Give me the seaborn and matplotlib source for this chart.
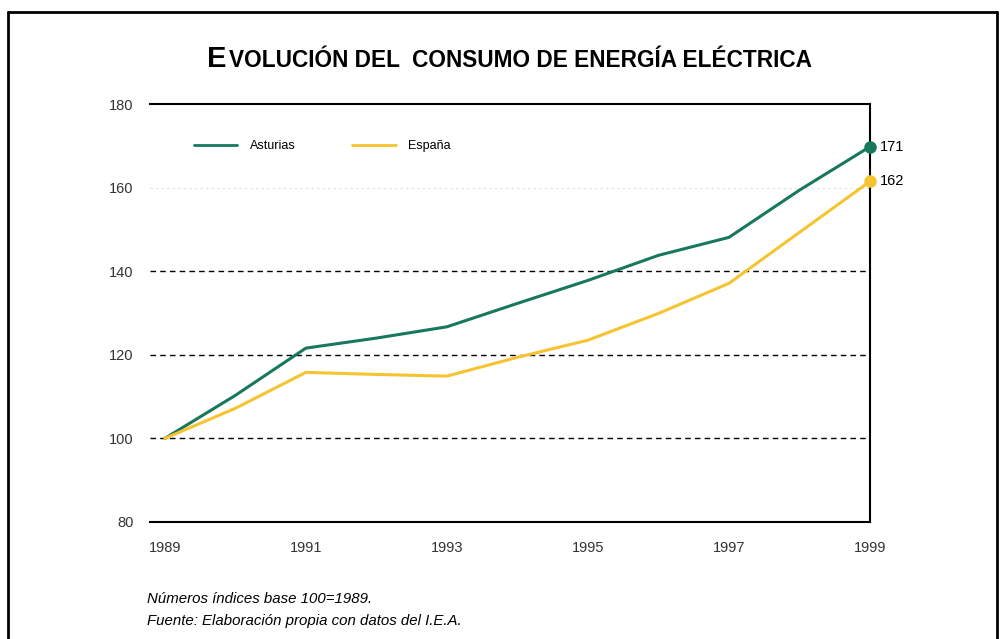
import pandas as pd
import matplotlib.pyplot as plt
import matplotlib.lines as mlines
import seaborn as sns

# data (index, base 100 = 1989)
years = [1989, 1990, 1991, 1992, 1993, 1994, 1995, 1996, 1997, 1998, 1999]
asturias = [100, 110.3, 121.6, 124.0, 126.7, 132.3, 137.8, 143.8, 148.1, 159.4, 169.8]
espana = [100, 107.2, 115.8, 115.3, 114.9, 119.4, 123.5, 129.9, 137.1, 149.3, 161.5]
series_names = ["Asturias", "España"]
end_labels = ["171", "162"]
x_ticks = [1989, 1991, 1993, 1995, 1997, 1999]
y_ticks = [80, 100, 120, 140, 160, 180]
colors = ["#17785e", "#f6c431"]

df = pd.concat([
    pd.DataFrame({"year": years, "value": asturias, "serie": series_names[0]}),
    pd.DataFrame({"year": years, "value": espana, "serie": series_names[1]}),
])

sns.set_theme(style="white")
plt.rcParams["font.family"] = ["Liberation Sans", "DejaVu Sans"]
plt.rcParams["text.color"] = "black"

fig = plt.figure(figsize=(10.03, 6.39), dpi=100)
ax = fig.add_axes([0.1496, 0.1831, 0.7178, 0.6541])

# grid lines
for yv in [100, 120, 140]:
    ax.axhline(yv, color="black", lw=1.0, ls=(0, (4, 3)), zorder=1)
ax.axhline(160, color="#dddddd", lw=0.8, ls=(0, (2, 3)), zorder=1)

sns.lineplot(data=df, x="year", y="value", hue="serie", palette=colors,
             lw=2.2, ax=ax, legend=False, zorder=3)

# end points and labels
for vals, col, lab in zip([asturias, espana], colors, end_labels):
    ax.plot(years[-1], vals[-1], "o", color=col, ms=8, zorder=4, clip_on=False)
    ax.annotate(lab, (years[-1], vals[-1]), xytext=(7, 0), textcoords="offset points",
                va="center", ha="left", fontsize=10.5, color="black")

ax.set_xlim(1988.79, 1999)
ax.set_ylim(80, 180)
ax.set_xticks(x_ticks)
ax.set_xticklabels([str(x) for x in x_ticks], fontsize=10.5, color="#333333")
ax.set_yticks(y_ticks)
ax.set_yticklabels([str(y) for y in y_ticks], fontsize=10.5, color="#333333")
ax.tick_params(axis="y", length=0, pad=12)
ax.tick_params(axis="x", length=0, pad=14)
ax.set_xlabel("")
ax.set_ylabel("")

for s in ["top", "bottom", "right"]:
    ax.spines[s].set_visible(True)
    ax.spines[s].set_color("black")
    ax.spines[s].set_linewidth(1.5)
ax.spines["left"].set_visible(False)

# legend
handles = [mlines.Line2D([], [], color=c, lw=2) for c in colors]
ax.legend(handles, series_names, loc="upper left", bbox_to_anchor=(0.045, 0.94),
          ncol=2, frameon=False, fontsize=9, handlelength=3.5, columnspacing=4.5,
          handletextpad=1.0)

# title in small caps
W, H = 1003, 639
fig.text(207 / W, 1 - 67 / H, "E", fontsize=21, fontweight="bold", ha="left", va="baseline")
fig.text(229 / W, 1 - 67 / H, "VOLUCIÓN DEL  CONSUMO DE ENERGÍA ELÉCTRICA",
         fontsize=16.3, fontweight="bold", ha="left", va="baseline")

# notes
fig.text(147 / W, 1 - 603 / H, "Números índices base 100=1989.", fontsize=10.8, style="italic")
fig.text(147 / W, 1 - 625 / H, "Fuente: Elaboración propia con datos del I.E.A.", fontsize=10.8, style="italic")

# frame around the figure (open at the bottom)
for xs, ys in [([8, 8], [639, 12]), ([8, 997], [12, 12]), ([997, 997], [12, 639])]:
    fig.add_artist(mlines.Line2D([x / W for x in xs], [1 - y / H for y in ys],
                                 color="black", lw=2, transform=fig.transFigure))

fig.savefig("out.png", dpi=100)
